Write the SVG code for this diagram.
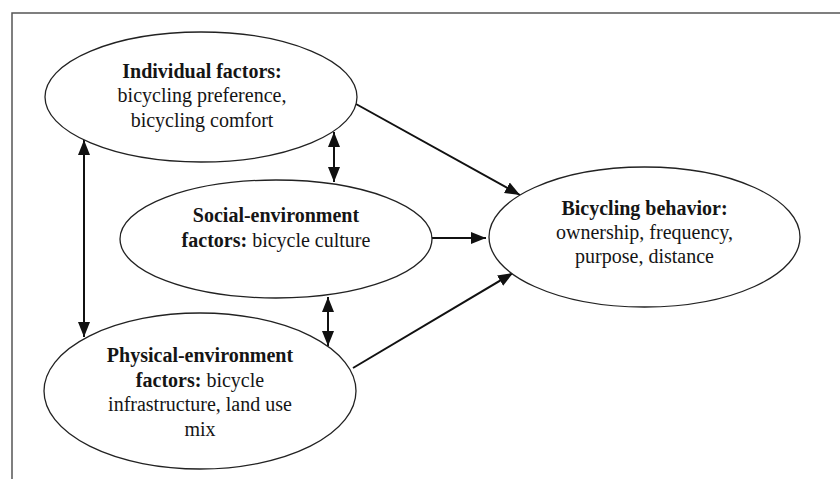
<svg xmlns="http://www.w3.org/2000/svg" width="840" height="479" viewBox="0 0 840 479">
<defs>
<marker id="ah" markerUnits="userSpaceOnUse" markerWidth="16" markerHeight="13" refX="15" refY="6.5" orient="auto-start-reverse" viewBox="0 0 16 13">
<path d="M0,0.5 L15,6.5 L0,12.5 z" fill="#111"/>
</marker>
<style>
.node ellipse{fill:#fff;stroke:#222;stroke-width:1.3}
.node text{font-family:Liberation Serif, DejaVu Serif, Times New Roman, serif;font-size:20px;fill:#151515;text-anchor:middle}
.b{font-weight:bold}
.conn line{stroke:#111;stroke-width:2;fill:none}
.bi{marker-start:url(#ah);marker-end:url(#ah)}
.uni{marker-end:url(#ah)}
</style>
</defs>
<rect width="840" height="479" fill="#fff"/>
<path d="M12,479 V13 H840" fill="none" stroke="#555" stroke-width="1.5"/>
<g class="conn" id="connectors">
<line class="uni" x1="356" y1="104" x2="520" y2="195"/>
<line class="uni" x1="432" y1="238" x2="486" y2="238"/>
<line class="uni" x1="353" y1="368" x2="513" y2="273"/>
<line class="bi" x1="84" y1="140" x2="84" y2="337"/>
<line class="bi" x1="334" y1="132" x2="334" y2="182"/>
<line class="bi" x1="328" y1="297" x2="328" y2="346"/>
</g>
<g class="node" id="individual">
<ellipse cx="201" cy="97" rx="156" ry="65"/>
<text x="202" y="78" class="b">Individual factors:</text>
<text x="202" y="102">bicycling preference,</text>
<text x="202" y="127">bicycling comfort</text>
</g>
<g class="node" id="social">
<ellipse cx="276" cy="239" rx="156" ry="59"/>
<text x="276" y="222" class="b">Social-environment</text>
<text x="276" y="247"><tspan class="b">factors:</tspan> bicycle culture</text>
</g>
<g class="node" id="physical">
<ellipse cx="200" cy="391" rx="156" ry="78"/>
<text x="200" y="362" class="b">Physical-environment</text>
<text x="200" y="387"><tspan class="b">factors:</tspan> bicycle</text>
<text x="200" y="411">infrastructure, land use</text>
<text x="200" y="436">mix</text>
</g>
<g class="node" id="behavior">
<ellipse cx="644.5" cy="237" rx="155.5" ry="70"/>
<text x="644.5" y="215" class="b">Bicycling behavior:</text>
<text x="644.5" y="239">ownership, frequency,</text>
<text x="644.5" y="263">purpose, distance</text>
</g>
</svg>
